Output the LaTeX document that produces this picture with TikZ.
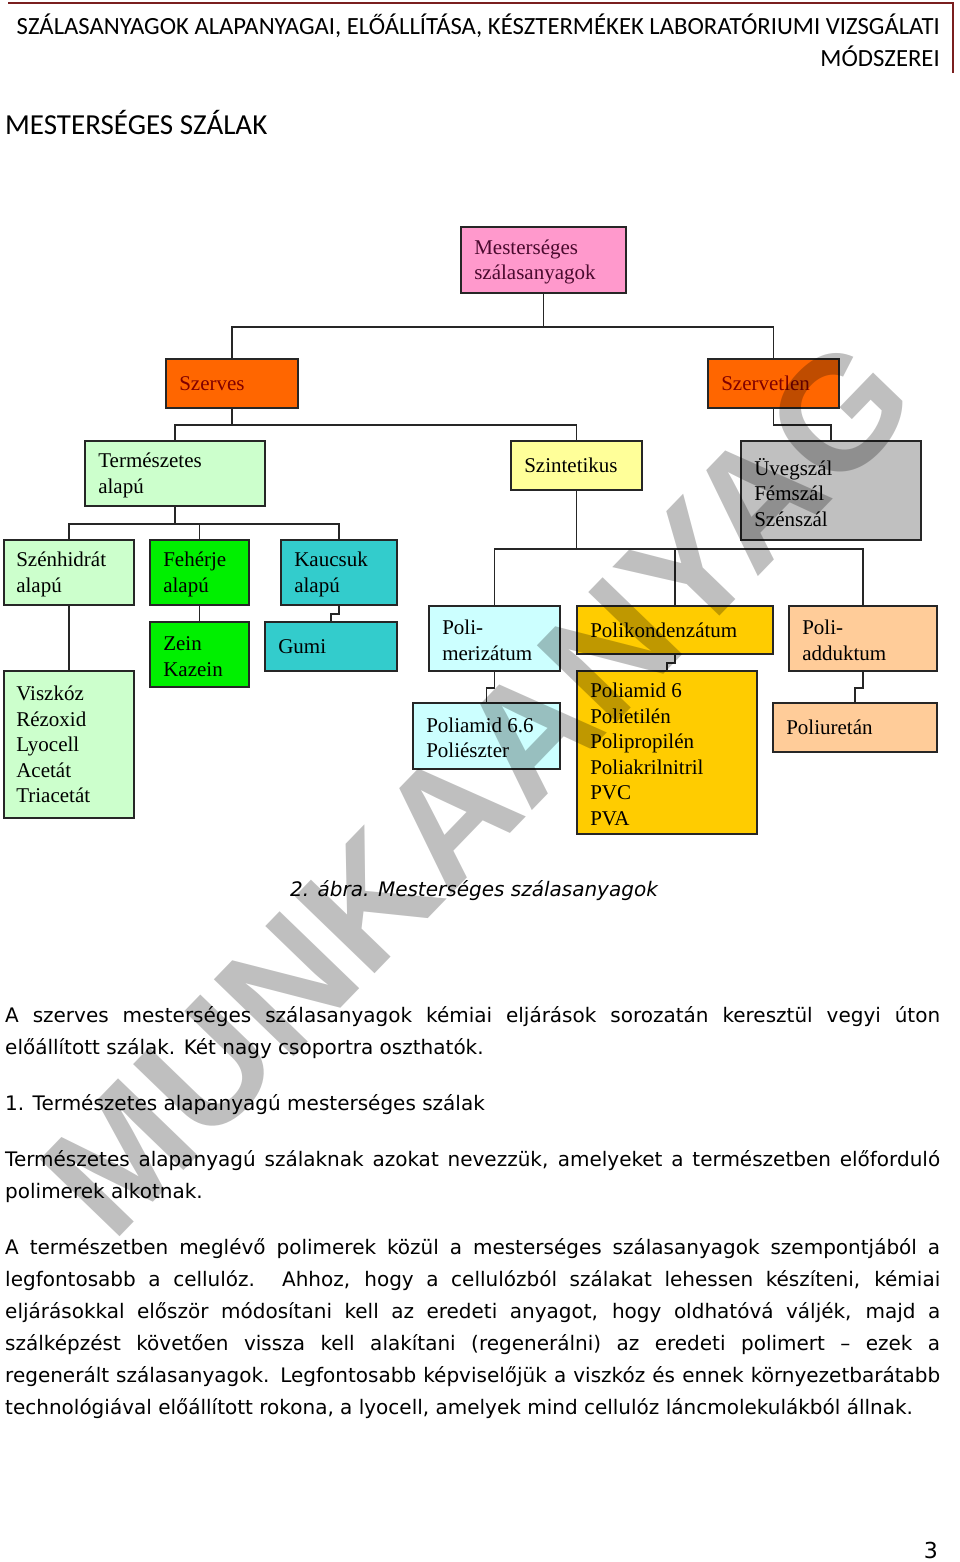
\documentclass[tikz,border=0pt]{standalone}
\usepackage{fontspec}
\setmainfont{DejaVu Sans}
\newfontfamily\hdrfont{Carlito}
\newfontfamily\boxfont{Liberation Serif}
\newfontfamily\wmfont{Liberation Sans}
\usetikzlibrary{fit}
\definecolor{hdrred}{HTML}{7A1F1F}
\definecolor{pinkbox}{HTML}{FF99CC}
\definecolor{orangebox}{HTML}{FF6600}
\definecolor{lgreen}{HTML}{CCFFCC}
\definecolor{lyellow}{HTML}{FFFF99}
\definecolor{greybox}{HTML}{C0C0C0}
\definecolor{bgreen}{HTML}{00F000}
\definecolor{teal}{HTML}{33CCCC}
\definecolor{lcyan}{HTML}{CCFFFF}
\definecolor{gold}{HTML}{FFCC00}
\definecolor{lorange}{HTML}{FFCC99}
\definecolor{roottext}{HTML}{4A0A2E}
\definecolor{darkred}{HTML}{800000}
\begin{document}
\begin{tikzpicture}[x=1pt,y=-1pt,
  box/.style={draw=black!85, line width=1.8pt, inner sep=0pt},
  lbl/.style={anchor=west, align=left, inner sep=0pt, xshift=14pt, yshift=-2pt,
    font=\boxfont\fontsize{21}{25.5}\selectfont},
  conn/.style={draw=black!85, line width=1.6pt},
  body/.style={anchor=base west, inner sep=0pt, font=\fontsize{20}{32}\selectfont},
  hdr/.style={anchor=base east, inner sep=0pt, font=\hdrfont\fontsize{24.7}{32}\selectfont},
]
\useasboundingbox (0,0) rectangle (960,1562);
\fill[white] (0,0) rectangle (960,1562);

% header
\draw[hdrred, line width=2.5pt] (8,3) -- (953,3) -- (953,73);
\node[hdr] (h1) at (940,35) {SZÁLASANYAGOK ALAPANYAGAI, ELŐÁLLÍTÁSA, KÉSZTERMÉKEK LABORATÓRIUMI VIZSGÁLATI};
\node[hdr] (h2) at (940,67) {MÓDSZEREI};
\node[anchor=base west, inner sep=0pt, font=\hdrfont\fontsize{29}{34}\selectfont] (title) at (5,135) {MESTERSÉGES SZÁLAK};

% boxes
\node[box, fill=pinkbox,   fit={(461,227)(626,293)}] (root) {};
\node[box, fill=orangebox, fit={(166,359)(298,408)}] (szerves) {};
\node[box, fill=orangebox, fit={(708,359)(839,408)}] (szervetlen) {};
\node[box, fill=lgreen,    fit={(85,441)(265,506)}] (term) {};
\node[box, fill=lyellow,   fit={(511,441)(642,490)}] (szint) {};
\node[box, fill=greybox,   fit={(741,441)(921,540)}] (uveg) {};
\node[box, fill=lgreen,    fit={(4,540)(134,605)}] (szenh) {};
\node[box, fill=bgreen,    fit={(150,540)(249,605)}] (feherje) {};
\node[box, fill=teal,      fit={(281,540)(397,605)}] (kaucsuk) {};
\node[box, fill=lgreen,    fit={(4,671)(134,818)}] (viszkoz) {};
\node[box, fill=bgreen,    fit={(150,622)(249,687)}] (zein) {};
\node[box, fill=teal,      fit={(265,622)(397,671)}] (gumi) {};
\node[box, fill=lcyan,     fit={(429,606)(560,671)}] (polim) {};
\node[box, fill=gold,      fit={(577,606)(773,654)}] (polik) {};
\node[box, fill=lorange,   fit={(789,606)(937,671)}] (poliad) {};
\node[box, fill=lcyan,     fit={(413,703)(560,769)}] (pa66) {};
\node[box, fill=gold,      fit={(577,671)(757,834)}] (pa6) {};
\node[box, fill=lorange,   fit={(773,703)(937,752)}] (poliur) {};

% connectors
\draw[conn] (root.south) -- ++(0,33) -| (szerves.north);
\draw[conn] (root.south) -- ++(0,33) -| (szervetlen.north);
\draw[conn] (szerves.south) -- ++(0,16) -| (term.north);
\draw[conn] (szerves.south) -- ++(0,16) -| (szint.north);
\draw[conn] (szervetlen.south) -- ++(0,16) -| (uveg.north);
\draw[conn] (term.south) -- ++(0,17) -| (szenh.north);
\draw[conn] (term.south) -- ++(0,17) -| (feherje.north);
\draw[conn] (term.south) -- ++(0,17) -| (kaucsuk.north);
\draw[conn] (szenh.south) -- (viszkoz.north);
\draw[conn] (feherje.south) -- (zein.north);
\draw[conn] (kaucsuk.south) -- ++(0,8) -| (gumi.north);
\draw[conn] (szint.south) -- ++(0,58) -| (polim.north);
\draw[conn] (szint.south) -- ++(0,58) -| (polik.north);
\draw[conn] (szint.south) -- ++(0,58) -| (poliad.north);
\draw[conn] (polim.south) -- ++(0,16) -| (pa66.north);
\draw[conn] (polik.south) -- ++(0,8) -| (pa6.north);
\draw[conn] (poliad.south) -- ++(0,16) -| (poliur.north);

% labels
\node[lbl, text=roottext] (root-t) at (root.west) {Mesterséges\\szálasanyagok};
\node[lbl, text=darkred, yshift=2pt] (szerves-t) at (szerves.west) {Szerves};
\node[lbl, text=darkred, yshift=2pt] (szervetlen-t) at (szervetlen.west) {Szervetlen};
\node[lbl] (term-t) at (term.west) {Természetes\\alapú};
\node[lbl, yshift=2pt] (szint-t) at (szint.west) {Szintetikus};
\node[lbl] (uveg-t) at (uveg.west) {Üvegszál\\Fémszál\\Szénszál};
\node[lbl, xshift=-1pt] (szenh-t) at (szenh.west) {Szénhidrát\\alapú};
\node[lbl] (feherje-t) at (feherje.west) {Fehérje\\alapú};
\node[lbl] (kaucsuk-t) at (kaucsuk.west) {Kaucsuk\\alapú};
\node[lbl, xshift=-1pt, yshift=2pt] (viszkoz-t) at (viszkoz.west) {Viszkóz\\Rézoxid\\Lyocell\\Acetát\\Triacetát};
\node[lbl] (zein-t) at (zein.west) {Zein\\Kazein};
\node[lbl, yshift=2pt] (gumi-t) at (gumi.west) {Gumi};
\node[lbl] (polim-t) at (polim.west) {Poli-\\merizátum};
\node[lbl, yshift=2pt] (polik-t) at (polik.west) {Polikondenzátum};
\node[lbl] (poliad-t) at (poliad.west) {Poli-\\adduktum};
\node[lbl] (pa66-t) at (pa66.west) {Poliamid 6.6\\Poliészter};
\node[lbl] (pa6-t) at (pa6.west) {Poliamid 6\\Polietilén\\Polipropilén\\Poliakrilnitril\\PVC\\PVA};
\node[lbl, yshift=2pt] (poliur-t) at (poliur.west) {Poliuretán};

% caption
\node[anchor=base, inner sep=0pt, font=\itshape\fontsize{20}{24}\selectfont] (cap) at (474,896) {2. ábra. Mesterséges szálasanyagok};

% body text
\node[body] (b1) at (5,1022) {\makebox[935pt][s]{A szerves mesterséges szálasanyagok kémiai eljárások sorozatán keresztül vegyi úton}};
\node[body] (b2) at (5,1054) {előállított szálak. Két nagy csoportra oszthatók.};
\node[body] (b3) at (5,1110) {1. Természetes alapanyagú mesterséges szálak};
\node[body] (b4) at (5,1166) {\makebox[935pt][s]{Természetes alapanyagú szálaknak azokat nevezzük, amelyeket a természetben előforduló}};
\node[body] (b5) at (5,1198) {polimerek alkotnak.};
\node[body] (b6) at (5,1254) {\makebox[935pt][s]{A természetben meglévő polimerek közül a mesterséges szálasanyagok szempontjából a}};
\node[body] (b7) at (5,1286) {\makebox[935pt][s]{legfontosabb a cellulóz. Ahhoz, hogy a cellulózból szálakat lehessen készíteni, kémiai}};
\node[body] (b8) at (5,1318) {\makebox[935pt][s]{eljárásokkal először módosítani kell az eredeti anyagot, hogy oldhatóvá váljék, majd a}};
\node[body] (b9) at (5,1350) {\makebox[935pt][s]{szálképzést követően vissza kell alakítani (regenerálni) az eredeti polimert – ezek a}};
\node[body] (b10) at (5,1382) {\makebox[935pt][s]{regenerált szálasanyagok. Legfontosabb képviselőjük a viszkóz és ennek környezetbarátabb}};
\node[body] (b11) at (5,1414) {technológiával előállított rokona, a lyocell, amelyek mind cellulóz láncmolekulákból állnak.};

% page number
\node[anchor=base east, inner sep=0pt, font=\fontsize{22}{26}\selectfont] (pg) at (938,1558) {3};

% watermark
\node[inner sep=0pt, rotate=46, text=black, text opacity=0.25,
  font=\wmfont\bfseries\fontsize{161}{161}\selectfont] (wm) at (478,787) {MUNKAANYAG};
\end{tikzpicture}
\end{document}
